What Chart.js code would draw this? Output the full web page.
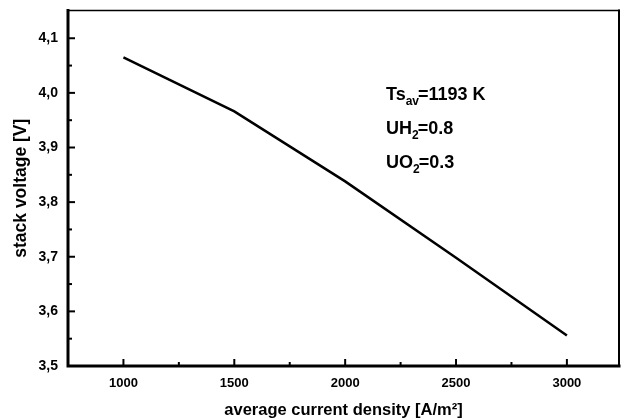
<!DOCTYPE html>
<html>
<head>
    <meta charset="utf-8">
    <title>Stack voltage</title>
    <script src="https://cdn.jsdelivr.net/npm/chart.js@4.4.1/dist/chart.umd.min.js"></script>
    <style>
        body { margin: 0; background: #fff; }
        #wrap { width: 624px; height: 420px; }
    </style>
</head>
<body>
<div id="wrap"><canvas id="voltChart" width="624" height="420"></canvas></div>
<script>
    // values
    const currentDensity = [1000, 1500, 2000, 2500, 3000];
    const stackVoltage = [4.065, 3.966, 3.838, 3.698, 3.556];
    const xTicks = [1000, 1500, 2000, 2500, 3000];
    const xMinor = [1250, 1750, 2250, 2750];
    const yTicks = [3.5, 3.6, 3.7, 3.8, 3.9, 4.0, 4.1];
    const yMinor = [3.55, 3.65, 3.75, 3.85, 3.95, 4.05];
    const notes = [
        ["Ts", "av", "=1193 K"],
        ["UH", "2", "=0.8"],
        ["UO", "2", "=0.3"]
    ];

    const sans = "'Liberation Sans', Arial, sans-serif";

    // frame, inward ticks and the text block
    const decor = {
        id: 'decor',
        afterDraw(chart) {
            const ctx = chart.ctx;
            const a = chart.chartArea;
            const xs = chart.scales.x, ys = chart.scales.y;
            ctx.save();
            ctx.strokeStyle = '#000';
            ctx.lineCap = 'square';

            ctx.lineWidth = 1.5;
            ctx.beginPath(); ctx.moveTo(a.left, a.top); ctx.lineTo(a.right, a.top); ctx.stroke();
            ctx.lineWidth = 2;
            ctx.beginPath(); ctx.moveTo(a.right, a.top); ctx.lineTo(a.right, a.bottom); ctx.stroke();
            ctx.lineWidth = 3;
            ctx.beginPath(); ctx.moveTo(a.left, a.top); ctx.lineTo(a.left, a.bottom); ctx.lineTo(a.right, a.bottom); ctx.stroke();

            ctx.lineWidth = 2;
            ctx.lineCap = 'butt';
            xTicks.forEach(v => {
                const p = xs.getPixelForValue(v);
                ctx.beginPath(); ctx.moveTo(p, a.bottom); ctx.lineTo(p, a.bottom - 7); ctx.stroke();
            });
            xMinor.forEach(v => {
                const p = xs.getPixelForValue(v);
                ctx.beginPath(); ctx.moveTo(p, a.bottom); ctx.lineTo(p, a.bottom - 4); ctx.stroke();
            });
            yTicks.forEach(v => {
                const p = ys.getPixelForValue(v);
                ctx.beginPath(); ctx.moveTo(a.left, p); ctx.lineTo(a.left + 7, p); ctx.stroke();
            });
            yMinor.forEach(v => {
                const p = ys.getPixelForValue(v);
                ctx.beginPath(); ctx.moveTo(a.left, p); ctx.lineTo(a.left + 4, p); ctx.stroke();
            });

            // annotation with subscripts
            ctx.fillStyle = '#000';
            ctx.textBaseline = 'alphabetic';
            let y = 100;
            notes.forEach(n => {
                let x = 386;
                ctx.font = "bold 18px " + sans;
                ctx.fillText(n[0], x, y);
                x += ctx.measureText(n[0]).width;
                ctx.font = "bold 12px " + sans;
                ctx.fillText(n[1], x, y + 5);
                x += ctx.measureText(n[1]).width - 1;
                ctx.font = "bold 18px " + sans;
                ctx.fillText(n[2], x, y);
                y += 34;
            });
            ctx.restore();
        }
    };

    new Chart(document.getElementById('voltChart'), {
        type: 'line',
        data: {
            datasets: [{
                data: currentDensity.map((x, i) => ({ x: x, y: stackVoltage[i] })),
                borderColor: '#000',
                borderWidth: 2.5,
                pointRadius: 0,
                tension: 0,
                fill: false
            }]
        },
        options: {
            responsive: false,
            animation: false,
            layout: { padding: { top: 10, right: 5, left: 11, bottom: 0 } },
            plugins: {
                legend: { display: false },
                tooltip: { enabled: false }
            },
            scales: {
                x: {
                    type: 'linear',
                    min: 750,
                    max: 3235,
                    afterFit: s => { s.height = 54; },
                    afterBuildTicks: s => { s.ticks = xTicks.map(v => ({ value: v })); },
                    border: { display: false },
                    grid: { display: false },
                    ticks: {
                        color: '#000',
                        padding: 2,
                        maxRotation: 0,
                        font: { family: sans, weight: 'bold', size: 13 },
                        callback: v => String(v)
                    },
                    title: {
                        display: true,
                        text: 'average current density [A/m²]',
                        color: '#000',
                        padding: { top: 4, bottom: 0 },
                        font: { family: sans, weight: 'bold', size: 16.5 }
                    }
                },
                y: {
                    type: 'linear',
                    min: 3.5,
                    max: 4.151,
                    afterFit: s => { s.width = 57; },
                    afterBuildTicks: s => { s.ticks = yTicks.map(v => ({ value: v })); },
                    border: { display: false },
                    grid: { display: false },
                    ticks: {
                        color: '#000',
                        padding: 2,
                        font: { family: sans, weight: 'bold', size: 14 },
                        callback: v => v.toFixed(1).replace('.', ',')
                    },
                    title: {
                        display: true,
                        text: 'stack voltage [V]',
                        color: '#000',
                        padding: { top: 0, bottom: 4 },
                        font: { family: sans, weight: 'bold', size: 17.5 }
                    }
                }
            }
        },
        plugins: [decor]
    });
</script>
</body>
</html>
